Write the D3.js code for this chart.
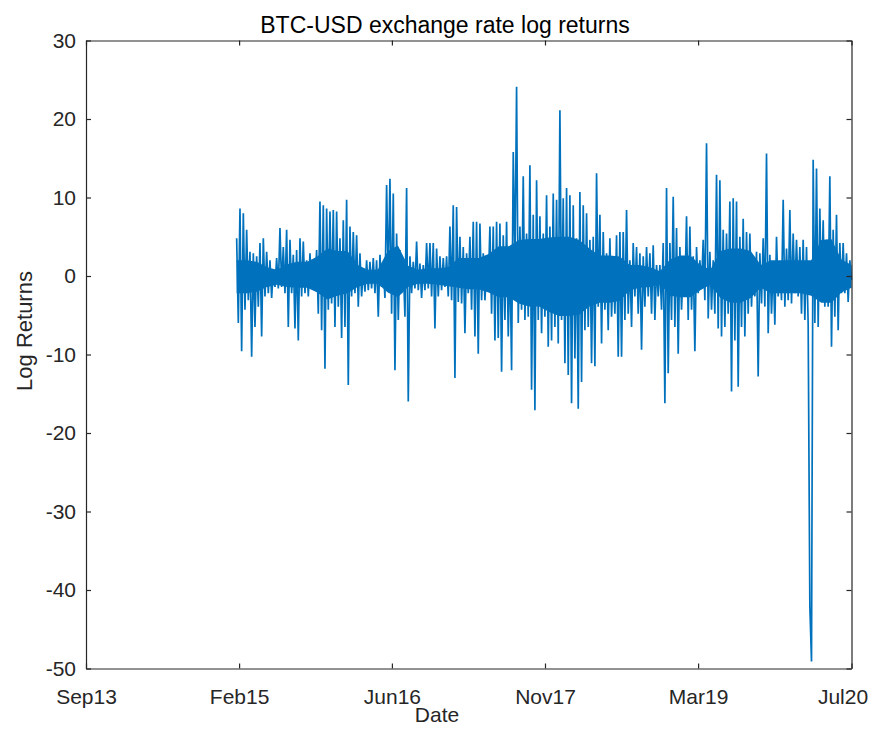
<!DOCTYPE html>
<html>
<head>
<meta charset="utf-8">
<title>BTC-USD exchange rate log returns</title>
<script src="https://d3js.org/d3.v7.min.js"></script>
<style>
body { margin: 0; background: #fff; }
svg { display: block; font-family: Arial, "Liberation Sans", sans-serif; }
.axis .domain, .axis line { stroke: #262626; stroke-width: 1.2; }
.axis text { fill: #262626; font-size: 21px; font-family: Arial, "Liberation Sans", sans-serif; }
</style>
</head>
<body>
<svg id="chart" width="877" height="729"></svg>
<script>
// x limits / ticks (MATLAB datetick, 500 days apart)
var xLimits = ["2013-09-26", "2020-07-31"];
var xTickDates = ["2013-09-26", "2015-02-08", "2016-06-21", "2017-11-03", "2019-03-18", "2020-07-31"];
var yTicks = [30, 20, 10, 0, -10, -20, -30, -40, -50];
var seriesRange = ["2015-01-31", "2020-07-31"];

// log returns in % (high / low pairs, ~5.4 days apart)
var returns2015 = [4.8,-6.0, 8.6,-9.6, 8.0,-4.3, 5.9,-3.1, 3.1,-10.3, 2.9,-6.5, 2.5,-3.9, 4.2,-7.7, 4.8,-2.6, 3.1,-2.2,
  2.0,-2.8, 0.8,-1.4, 2.3,-1.6, 6.1,-1.4, 3.7,-2.2, 5.9,-6.5, 4.6,-2.2, 2.7,-6.7, 3.3,-8.2, 4.8,-2.6,
  4.4,-2.2, 2.0,-2.6, 2.9,-1.6, 1.8,-1.4, 3.3,-4.8, 9.5,-6.9, 9.0,-11.8, 8.6,-4.3, 8.2,-3.5, 8.4,-6.5];
var returns2016 = [8.2,-3.9, 4.8,-7.9, 7.1,-6.5, 9.7,-13.9, 6.3,-2.6, 5.6,-2.2, 5.2,-3.9, 2.9,-2.6, 1.0,-2.0, 2.0,-1.8,
  1.8,-1.6, 2.3,-2.2, 2.0,-5.2, 2.7,-1.4, 1.4,-2.8, 11.6,-0.9, 12.4,-4.8, 10.5,-12.0, 5.4,-5.6, 3.3,-2.2,
  1.4,-5.2, 11.2,-16.0, 2.5,-2.2, 1.8,-1.6, 4.4,-1.8, 1.6,-2.8, 1.4,-1.8, 4.2,-1.6, 4.2,-2.6, 4.2,-6.7,
  3.5,-2.6, 2.5,-1.8, 2.3,-1.4];
var returns2017 = [2.5,-2.6, 6.3,-3.1, 9.0,-13.0, 8.8,-3.3, 5.0,-3.5, 3.7,-7.3, 2.9,-2.2, 5.0,-4.3, 6.9,-7.7, 6.9,-9.9,
  6.7,-3.1, 2.9,-3.1, 1.2,-1.4, 6.3,-4.8, 6.3,-8.2, 6.9,-7.9, 6.7,-12.2, 5.2,-5.6, 6.9,-7.7, 2.9,-12.0,
  15.8,1.0, 24.1,-6.0, 6.3,-4.3, 12.7,-5.6, 5.4,-5.2, 14.1,-14.5, 7.8,-17.1, 12.2,-5.6, 7.6,-7.3, 5.4,-5.2,
  10.3,-9.0, 6.3,-8.2];
var returns2018 = [10.5,-6.5, 9.7,-8.6, 21.1,-5.6, 9.9,-11.1, 11.2,-12.6, 10.3,-16.2, 9.0,-10.5, 4.8,-16.9, 10.7,-13.5, 9.0,-6.9,
  8.0,-6.5, 4.6,-11.1, 5.0,-11.5, 13.1,-3.9, 7.8,-8.6, 5.6,-4.3, 2.9,-6.9, 4.8,-5.2, 1.4,-4.8, 5.2,-10.3,
  5.6,-10.3, 5.6,-5.6, 8.4,-4.8, 2.0,-6.5, 4.2,-2.6, 3.7,-4.8, 2.9,-9.4, 2.5,-3.9, 3.7,-2.6, 2.9,-4.8,
  3.9,-5.6];
var returns2019 = [1.4,-2.6, 1.4,-4.3, 4.2,-16.2, 11.2,-12.4, 4.2,-5.6, 10.1,-6.5, 6.1,-9.9, 3.7,-4.3, 1.2,-2.2, 7.6,-5.6,
  6.3,-4.3, 2.5,-9.6, 3.7,-2.2, 2.0,-1.4, 4.6,-3.1, 16.9,-5.4, 3.1,-4.3, 2.0,-4.8, 12.9,-6.7, 12.2,-7.7,
  5.9,-6.5, 5.4,-4.8, 9.5,-14.7, 9.9,-8.2, 9.5,-14.1, 5.0,-6.5, 7.3,-7.7, 5.6,-4.8, 5.4,-3.9, 2.5,-2.6,
  3.1,-12.8];
var returns2020 = [2.9,-3.5, 4.8,-3.9, 15.6,-7.3, 2.7,-4.8, 1.6,-6.2, 5.0,-2.6, 1.8,-3.1, 9.7,-3.9, 3.5,-3.1, 8.4,-3.5,
  5.4,-2.2, 4.6,-2.6, 3.7,-4.8, 4.6,-5.6, 3.7,-6.2, -42.0,-49.1, 14.8,-6.0, 13.7,-6.5, 8.6,-3.1, 7.1,-3.9,
  4.6,-3.9, 12.7,-9.0, 5.9,-5.2, 7.8,-6.9, 4.2,-2.2, 4.2,-2.2, 2.9,-3.3, 2.0,-0.5];

// dense core of the daily series (upper / lower edge of the solid band), ~33 days apart
var coreHigh = [2.0, 2.0, 1.8, 1.1, 0.8, 1.5, 1.8, 1.8, 2.5, 3.5, 3.2, 3.2, 1.4, 0.8, 0.8, 3.2, 3.9, 1.3, 0.8, 1.0,
  1.0, 1.1, 2.3, 2.3, 2.3, 2.8, 3.8, 3.8, 4.6, 4.7, 4.7, 4.9, 5.0, 5.0, 4.6, 3.5, 2.6, 2.6, 2.5, 1.4,
  1.4, 1.1, 0.6, 2.1, 2.6, 2.6, 1.4, 0.8, 3.2, 3.5, 3.5, 3.2, 1.4, 2.0, 2.0, 2.0, 2.0, 2.0, 4.6, 4.7,
  2.1, 1.4];
var coreLow = [-2.2, -2.2, -2.0, -1.4, -1.1, -1.4, -1.5, -1.5, -2.1, -3.0, -2.5, -2.2, -1.4, -1.0, -1.0, -2.1, -2.7, -1.4, -1.0, -1.0,
  -1.1, -1.3, -1.5, -1.7, -1.7, -2.1, -2.7, -2.7, -3.5, -3.9, -3.9, -4.6, -5.1, -5.1, -4.9, -3.9, -3.4, -3.4, -3.2, -1.8,
  -1.5, -1.4, -1.0, -2.5, -2.7, -2.7, -1.8, -1.1, -2.8, -3.4, -3.4, -2.8, -1.5, -2.2, -2.2, -2.2, -2.2, -2.5, -3.4, -3.4,
  -2.1, -1.5];

var margin = {top: 40.5, right: 25.5, bottom: 60.5, left: 86},
    width = 877 - margin.left - margin.right,
    height = 729 - margin.top - margin.bottom;

var parse = d3.utcParse("%Y-%m-%d");
var fmt = d3.utcFormat("%b%y");

var t0 = parse(seriesRange[0]), t1 = parse(seriesRange[1]);

var logReturns = [].concat(returns2015, returns2016, returns2017, returns2018, returns2019, returns2020);
var step = (t1 - t0) / (logReturns.length - 1);
var points = logReturns.map(function(v, i) {
  return {date: new Date(+t0 + i * step), value: v};
});

var coreStep = (t1 - t0) / (coreHigh.length - 1);
var core = coreHigh.map(function(v, i) {
  return {date: new Date(+t0 + i * coreStep), hi: v, lo: coreLow[i]};
});

var x = d3.scaleUtc().domain(xLimits.map(parse)).range([0, width]);
var y = d3.scaleLinear().domain([-50, 30]).range([height, 0]);
var tickDates = xTickDates.map(parse);

var svg = d3.select("#chart");
var g = svg.append("g").attr("transform", "translate(" + margin.left + "," + margin.top + ")");

var blue = "#0072BD";

// solid core band, then the spiky series on top of it
var area = d3.area()
  .x(function(d) { return x(d.date); })
  .y0(function(d) { return y(d.lo); })
  .y1(function(d) { return y(d.hi); });

g.append("path")
  .datum(core)
  .attr("fill", blue)
  .attr("d", area);

var line = d3.line()
  .x(function(d) { return x(d.date); })
  .y(function(d) { return y(d.value); });

g.append("path")
  .datum(points)
  .attr("fill", "none")
  .attr("stroke", blue)
  .attr("stroke-width", 1.7)
  .attr("d", line);

// axes, ticks pointing inward on all four sides
var gx = g.append("g").attr("class", "axis")
  .attr("transform", "translate(0," + height + ")")
  .call(d3.axisBottom(x).tickValues(tickDates).tickFormat(fmt)
    .tickSizeInner(-5).tickSizeOuter(0).tickPadding(21));
gx.selectAll("text").filter(function(d, i) { return i === tickDates.length - 1; })
  .attr("dx", -9);

g.append("g").attr("class", "axis")
  .call(d3.axisTop(x).tickValues(tickDates).tickFormat("")
    .tickSizeInner(-5).tickSizeOuter(0));

g.append("g").attr("class", "axis")
  .call(d3.axisLeft(y).tickValues(yTicks).tickFormat(function(d) { return String(d); })
    .tickSizeInner(-5).tickSizeOuter(0).tickPadding(10));

g.append("g").attr("class", "axis")
  .attr("transform", "translate(" + width + ",0)")
  .call(d3.axisRight(y).tickValues(yTicks).tickFormat("")
    .tickSizeInner(-5).tickSizeOuter(0));

// labels
svg.append("text")
  .attr("x", 445).attr("y", 32.5)
  .attr("text-anchor", "middle")
  .attr("font-size", "23px")
  .attr("fill", "#000")
  .text("BTC-USD exchange rate log returns");

svg.append("text")
  .attr("x", 437).attr("y", 722)
  .attr("text-anchor", "middle")
  .attr("font-size", "21px")
  .attr("fill", "#262626")
  .text("Date");

svg.append("text")
  .attr("transform", "translate(32,331) rotate(-90)")
  .attr("text-anchor", "middle")
  .attr("font-size", "22px")
  .attr("fill", "#262626")
  .text("Log Returns");
</script>
</body>
</html>
